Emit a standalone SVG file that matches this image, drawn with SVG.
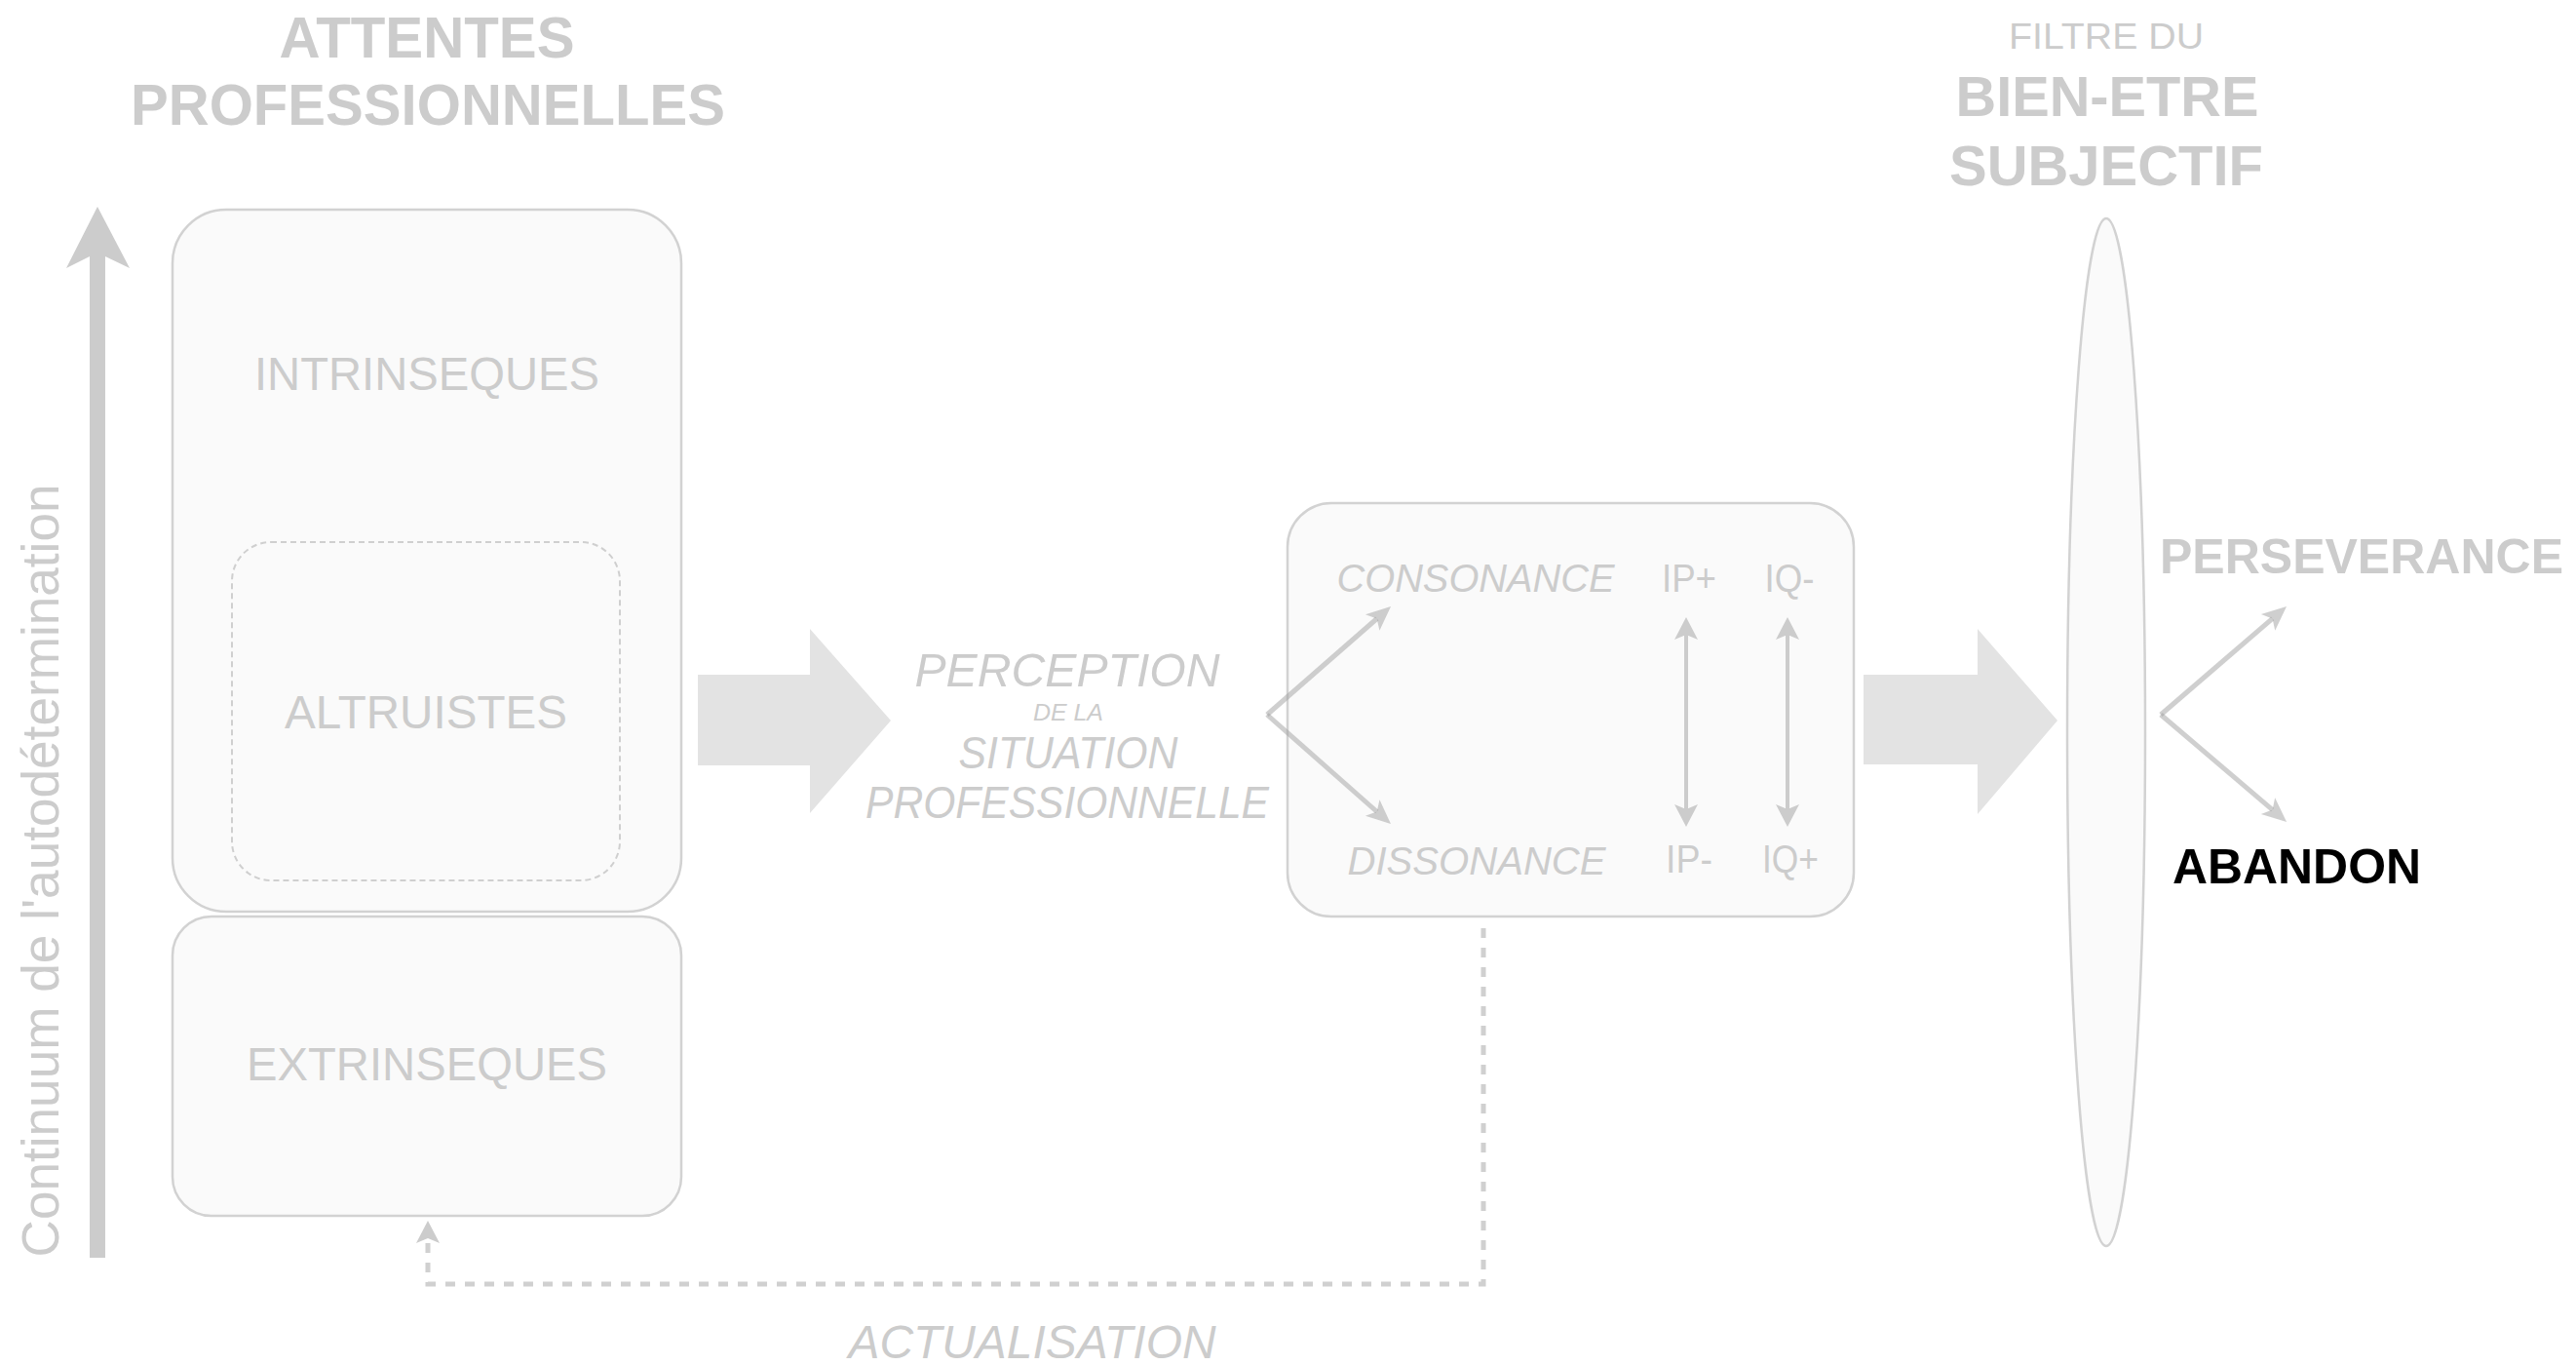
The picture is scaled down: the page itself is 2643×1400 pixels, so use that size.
<svg xmlns="http://www.w3.org/2000/svg" width="2643" height="1400" viewBox="0 0 2643 1400">
<style>
.t{font-family:"Liberation Sans",Arial,sans-serif;fill:#cccccc}
.b{font-weight:bold}
.i{font-style:italic}
.m{text-anchor:middle}
.box{fill:#fafafa;stroke:#d2d2d2;stroke-width:2.5}
.big{fill:#e3e3e3}
.fork{fill:none;stroke:rgb(160,160,160);stroke-opacity:0.5;stroke-width:5}
.dbl{fill:none;stroke:#cccccc;stroke-width:4}
.dash{fill:none;stroke:#d0d0d0;stroke-width:5;stroke-dasharray:10 10}
</style>
<defs>
<marker id="ah" viewBox="-26 -13 28 26" refX="-19" refY="0" markerWidth="28" markerHeight="26" markerUnits="userSpaceOnUse" orient="auto">
<path d="M0,0 L-25,-11 L-19,0 L-25,11 Z" fill="rgb(160,160,160)" fill-opacity="0.5"/>
</marker>
<marker id="ad" viewBox="-26 -13 28 26" refX="-18" refY="0" markerWidth="28" markerHeight="26" markerUnits="userSpaceOnUse" orient="auto-start-reverse">
<path d="M0,0 L-23,-12 L-18,0 L-23,12 Z" fill="#cccccc"/>
</marker>
</defs>
<rect width="2643" height="1400" fill="#ffffff"/>

<g id="titre-attentes">
<text class="t b m" x="438" y="59" font-size="60" textLength="303" lengthAdjust="spacingAndGlyphs">ATTENTES</text>
<text class="t b m" x="439" y="128" font-size="60" textLength="610" lengthAdjust="spacingAndGlyphs">PROFESSIONNELLES</text>
</g>

<g id="continuum">
<polygon points="100,212 133,275 108,263 108,1290 92,1290 92,263 68,275" fill="#cccccc"/>
<text class="t m" transform="translate(60,893) rotate(-90)" font-size="53" textLength="793" lengthAdjust="spacingAndGlyphs">Continuum de l'autodétermination</text>
</g>

<g id="intrinseques">
<rect class="box" x="177" y="215" width="522" height="720" rx="55" ry="55"/>
<text class="t m" x="438" y="400" font-size="48" textLength="354" lengthAdjust="spacingAndGlyphs">INTRINSEQUES</text>
</g>

<g id="altruistes">
<rect x="238" y="556" width="398" height="347" rx="40" ry="40" fill="none" stroke="#cfcfcf" stroke-width="2" stroke-dasharray="6 4"/>
<text class="t m" x="437" y="747" font-size="48" textLength="290" lengthAdjust="spacingAndGlyphs">ALTRUISTES</text>
</g>

<g id="extrinseques">
<rect class="box" x="177" y="940" width="522" height="307" rx="40" ry="40"/>
<text class="t m" x="438" y="1108" font-size="48" textLength="370" lengthAdjust="spacingAndGlyphs">EXTRINSEQUES</text>
</g>

<g id="fleche-1">
<polygon class="big" points="716,692 831,692 831,645 914,739 831,834 831,785 716,785"/>
</g>

<g id="perception">
<text class="t i m" x="1095" y="704" font-size="48" textLength="313" lengthAdjust="spacingAndGlyphs">PERCEPTION</text>
<text class="t i m" x="1096" y="739" font-size="24" textLength="72" lengthAdjust="spacingAndGlyphs">DE LA</text>
<text class="t i m" x="1096" y="788" font-size="46" textLength="225" lengthAdjust="spacingAndGlyphs">SITUATION</text>
<text class="t i m" x="1095" y="839" font-size="46" textLength="414" lengthAdjust="spacingAndGlyphs">PROFESSIONNELLE</text>
</g>

<g id="consonance-dissonance">
<rect class="box" x="1321" y="516" width="581" height="424" rx="45" ry="45"/>
<text class="t i m" x="1514" y="607" font-size="40" textLength="285" lengthAdjust="spacingAndGlyphs">CONSONANCE</text>
<text class="t i m" x="1515" y="897" font-size="40" textLength="265" lengthAdjust="spacingAndGlyphs">DISSONANCE</text>
<text class="t m" x="1733" y="607" font-size="40" textLength="56" lengthAdjust="spacingAndGlyphs">IP+</text>
<text class="t m" x="1836" y="607" font-size="40" textLength="51" lengthAdjust="spacingAndGlyphs">IQ-</text>
<text class="t m" x="1733" y="895" font-size="40" textLength="48" lengthAdjust="spacingAndGlyphs">IP-</text>
<text class="t m" x="1837" y="895" font-size="40" textLength="58" lengthAdjust="spacingAndGlyphs">IQ+</text>
</g>

<g id="fleche-2">
<polygon class="big" points="1912,692 2029,692 2029,645 2111,739 2029,835 2029,784 1912,784"/>
</g>

<g id="filtre">
<ellipse cx="2161" cy="751" rx="40" ry="527" fill="#fafafa" stroke="#d2d2d2" stroke-width="2.5"/>
<text class="t m" x="2161" y="50" font-size="37" textLength="200" lengthAdjust="spacingAndGlyphs">FILTRE DU</text>
<text class="t b m" x="2162" y="119" font-size="58" textLength="311" lengthAdjust="spacingAndGlyphs">BIEN-ETRE</text>
<text class="t b m" x="2161" y="190" font-size="58" textLength="322" lengthAdjust="spacingAndGlyphs">SUBJECTIF</text>
</g>

<g id="perseverance">
<text class="t b" x="2216" y="588" font-size="50" textLength="414" lengthAdjust="spacingAndGlyphs">PERSEVERANCE</text>
</g>

<g id="abandon">
<text class="b" x="2229" y="906" font-size="50" fill="#000000" font-family="Liberation Sans, Arial, sans-serif" textLength="255" lengthAdjust="spacingAndGlyphs">ABANDON</text>
</g>

<g id="actualisation">
<text class="t i m" x="1059" y="1393" font-size="48" textLength="377" lengthAdjust="spacingAndGlyphs">ACTUALISATION</text>
</g>

<g id="connecteurs">
<line class="fork" x1="1300" y1="733" x2="1412.7" y2="634.5" marker-end="url(#ah)"/>
<line class="fork" x1="1300" y1="733" x2="1412.7" y2="832.5" marker-end="url(#ah)"/>
<line class="dbl" x1="1730" y1="651" x2="1730" y2="830" marker-start="url(#ad)" marker-end="url(#ad)"/>
<line class="dbl" x1="1834" y1="651" x2="1834" y2="830" marker-start="url(#ad)" marker-end="url(#ad)"/>
<line class="fork" x1="2217" y1="733" x2="2331.6" y2="634.4" marker-end="url(#ah)"/>
<line class="fork" x1="2217" y1="733" x2="2331.6" y2="830.6" marker-end="url(#ah)"/>
<path class="dash" d="M1522,952 V1317 H439 V1270" marker-end="url(#ad)"/>
</g>
</svg>
